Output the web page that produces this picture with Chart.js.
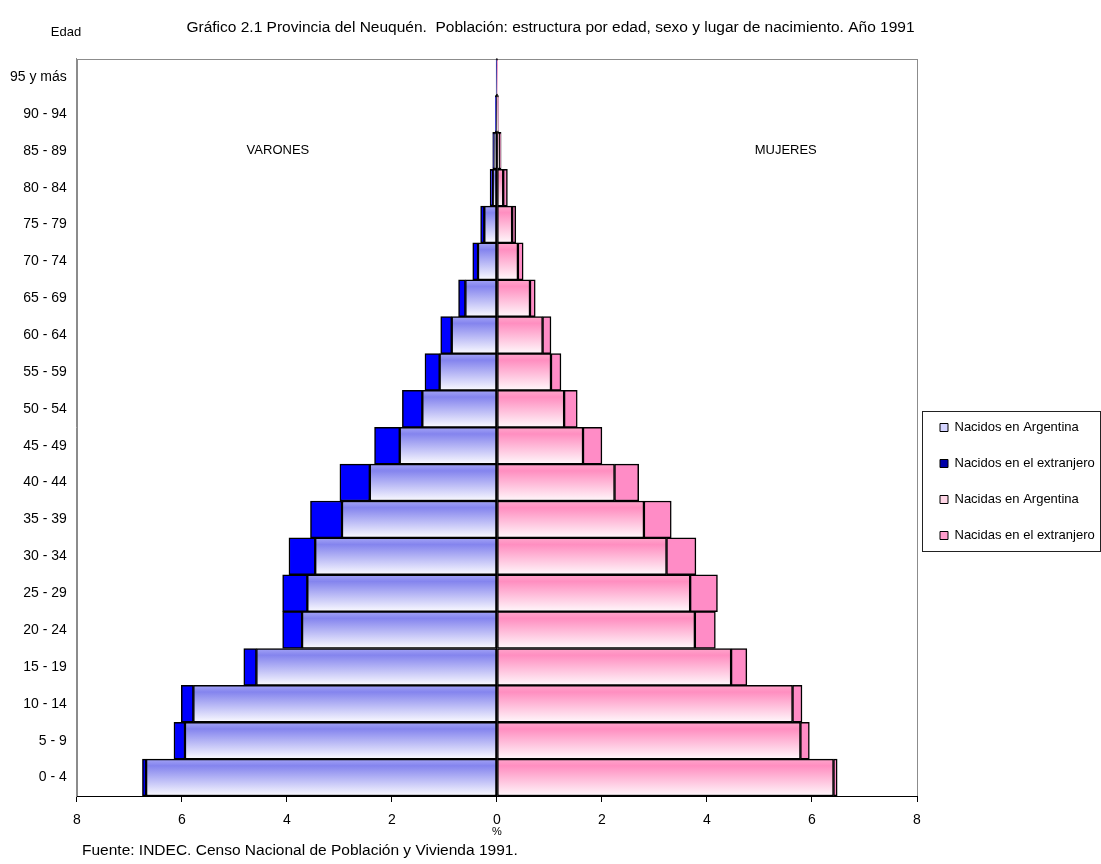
<!DOCTYPE html>
<html lang="es">
<head>
<meta charset="utf-8">
<title>Neuquén 1991 - estructura por edad, sexo y lugar de nacimiento</title>
<script src="https://cdn.jsdelivr.net/npm/chart.js@4.4.1/dist/chart.umd.min.js"></script>
<style>
  html, body { margin: 0; padding: 0; background: #fff; }
  #piramide { display: block; }
</style>
</head>
<body>
<canvas id="piramide" width="1101" height="864"></canvas>
<script>
// grupos de edad, de abajo hacia arriba
const EDADES = ['0 - 4', '5 - 9', '10 - 14', '15 - 19', '20 - 24', '25 - 29', '30 - 34',
  '35 - 39', '40 - 44', '45 - 49', '50 - 54', '55 - 59', '60 - 64', '65 - 69',
  '70 - 74', '75 - 79', '80 - 84', '85 - 89', '90 - 94', '95 y más'];

// % de la población total
const VARONES_ARG = [6.68, 5.94, 5.78, 4.58, 3.71, 3.61, 3.46, 2.95, 2.42, 1.85,
  1.42, 1.09, 0.86, 0.60, 0.36, 0.24, 0.08, 0.06, 0.02, 0.01];
const VARONES_EXT = [0.07, 0.21, 0.23, 0.24, 0.37, 0.47, 0.50, 0.60, 0.57, 0.48,
  0.38, 0.28, 0.21, 0.13, 0.10, 0.07, 0.05, 0.02, 0.01, 0.005];
const MUJERES_ARG = [6.41, 5.78, 5.63, 4.46, 3.77, 3.68, 3.23, 2.80, 2.24, 1.64,
  1.28, 1.03, 0.87, 0.63, 0.40, 0.29, 0.12, 0.06, 0.02, 0.01];
const MUJERES_EXT = [0.07, 0.17, 0.18, 0.30, 0.39, 0.52, 0.56, 0.52, 0.46, 0.36,
  0.25, 0.19, 0.16, 0.10, 0.10, 0.07, 0.08, 0.02, 0.01, 0.005];

const X_TICKS = [-8, -6, -4, -2, 0, 2, 4, 6, 8];

const TITULO = 'Gráfico 2.1 Provincia del Neuquén.  Población: estructura por edad, sexo y lugar de nacimiento. Año 1991';
const FUENTE = 'Fuente: INDEC. Censo Nacional de Población y Vivienda 1991.';

const FONT = '"Liberation Sans", Arial, sans-serif';
Chart.defaults.font.family = FONT;
Chart.defaults.color = '#000';

// degradado vertical dentro de cada barra (color arriba, blanco abajo)
function degradado(arriba, medio, abajo, plano) {
  return function (c) {
    const chart = c.chart;
    if (c.type !== 'data' || !chart.chartArea) return plano;
    const y = chart.scales.y;
    const centro = y.getPixelForValue(c.dataIndex);
    const alto = y.height / EDADES.length;
    const g = chart.ctx.createLinearGradient(0, centro - alto / 2, 0, centro + alto / 2);
    g.addColorStop(0, arriba);
    g.addColorStop(0.18, medio);
    g.addColorStop(1, abajo);
    return g;
  };
}

const LEYENDA_COLORES = ['#d4d4ff', '#0000a8', '#ffd6e6', '#ff9ccc'];

const textos = {
  id: 'textos',
  beforeDraw(chart) {
    const { ctx, chartArea: a } = chart;
    ctx.save();
    ctx.strokeStyle = '#8c8c8c';
    ctx.lineWidth = 1;
    ctx.strokeRect(Math.round(a.left) + 0.5, Math.round(a.top) + 0.5,
      Math.round(a.right - a.left), Math.round(a.bottom - a.top));
    ctx.restore();
  },
  afterDraw(chart) {
    const { ctx, scales: { x, y }, legend } = chart;
    ctx.save();
    ctx.fillStyle = '#000';
    ctx.textBaseline = 'middle';
    ctx.textAlign = 'center';
    ctx.font = '13px ' + FONT;
    ctx.fillText('Edad', 66, 32);
    const yRot = y.getPixelForValue(EDADES.indexOf('85 - 89'));
    ctx.fillText('VARONES', x.getPixelForValue(-4.17), yRot);
    ctx.fillText('MUJERES', x.getPixelForValue(5.5), yRot);
    ctx.textAlign = 'left';
    ctx.font = '15.5px ' + FONT;
    ctx.fillText(FUENTE, 82, 851);

    // recuadro de la leyenda
    const hb = legend.legendHitBoxes;
    if (hb && hb.length) {
      const top = hb[0].top - 10;
      const bottom = hb[hb.length - 1].top + hb[hb.length - 1].height + 9;
      const left = hb[0].left - 18;
      ctx.strokeStyle = '#222';
      ctx.lineWidth = 1;
      ctx.strokeRect(Math.round(left) + 0.5, Math.round(top) + 0.5,
        chart.width - Math.round(left) - 1, Math.round(bottom - top));
    }
    ctx.restore();
  }
};

new Chart(document.getElementById('piramide'), {
  type: 'bar',
  data: {
    labels: EDADES,
    datasets: [
      { label: 'Nacidos en Argentina', data: VARONES_ARG.map(v => -v),
        backgroundColor: degradado('#a4a4f6', '#8484ee', '#fbfbff', '#b0b0f4') },
      { label: 'Nacidos en el extranjero', data: VARONES_EXT.map(v => -v),
        backgroundColor: '#0000ff' },
      { label: 'Nacidas en Argentina', data: MUJERES_ARG,
        backgroundColor: degradado('#ffa6cc', '#ff8ec0', '#fff8fb', '#ffb0d0') },
      { label: 'Nacidas en el extranjero', data: MUJERES_EXT,
        backgroundColor: '#ff8cc6' }
    ]
  },
  options: {
    responsive: false,
    animation: false,
    indexAxis: 'y',
    layout: { padding: { left: 0, bottom: 25 } },
    datasets: {
      bar: {
        categoryPercentage: 1,
        barPercentage: 1,
        borderColor: '#000',
        borderWidth: 1.5,
        borderSkipped: false
      }
    },
    plugins: {
      title: {
        display: true,
        text: TITULO,
        color: '#000',
        font: { size: 15.5, weight: 'normal' },
        padding: { top: 18, bottom: 22 }
      },
      legend: {
        position: 'right',
        fullSize: false,
        maxWidth: 184,
        title: { display: true, text: ' ', font: { size: 2 }, padding: { top: 0, bottom: 106 } },
        labels: {
          font: { size: 13 },
          color: '#000',
          boxWidth: 8,
          boxHeight: 8,
          padding: 23,
          generateLabels: (chart) => chart.data.datasets.map((d, i) => ({
            text: d.label,
            fillStyle: LEYENDA_COLORES[i],
            strokeStyle: '#000',
            lineWidth: 1,
            hidden: !chart.isDatasetVisible(i),
            datasetIndex: i
          }))
        }
      },
      tooltip: {
        callbacks: {
          label: (c) => `${c.dataset.label}: ${Math.abs(c.parsed.x).toFixed(2)} %`
        }
      }
    },
    scales: {
      x: {
        stacked: true,
        min: -8,
        max: 8,
        afterBuildTicks: (s) => { s.ticks = X_TICKS.map(v => ({ value: v })); },
        ticks: {
          font: { size: 14 },
          color: '#000',
          padding: 10,
          callback: (v) => Math.abs(v)
        },
        grid: {
          color: (c) => (c.tick && c.tick.value === 0 ? '#000' : 'transparent'),
          tickColor: '#000',
          tickLength: 6
        },
        border: { color: '#000', width: 1 },
        title: { display: true, text: '%', font: { size: 11 }, padding: { top: -13, bottom: 0 } }
      },
      y: {
        stacked: true,
        reverse: true,
        grid: { display: false, drawTicks: false },
        border: { color: '#8c8c8c' },
        ticks: { font: { size: 14 }, color: '#000', padding: 10, autoSkip: false }
      }
    }
  },
  plugins: [textos]
});
</script>
</body>
</html>
